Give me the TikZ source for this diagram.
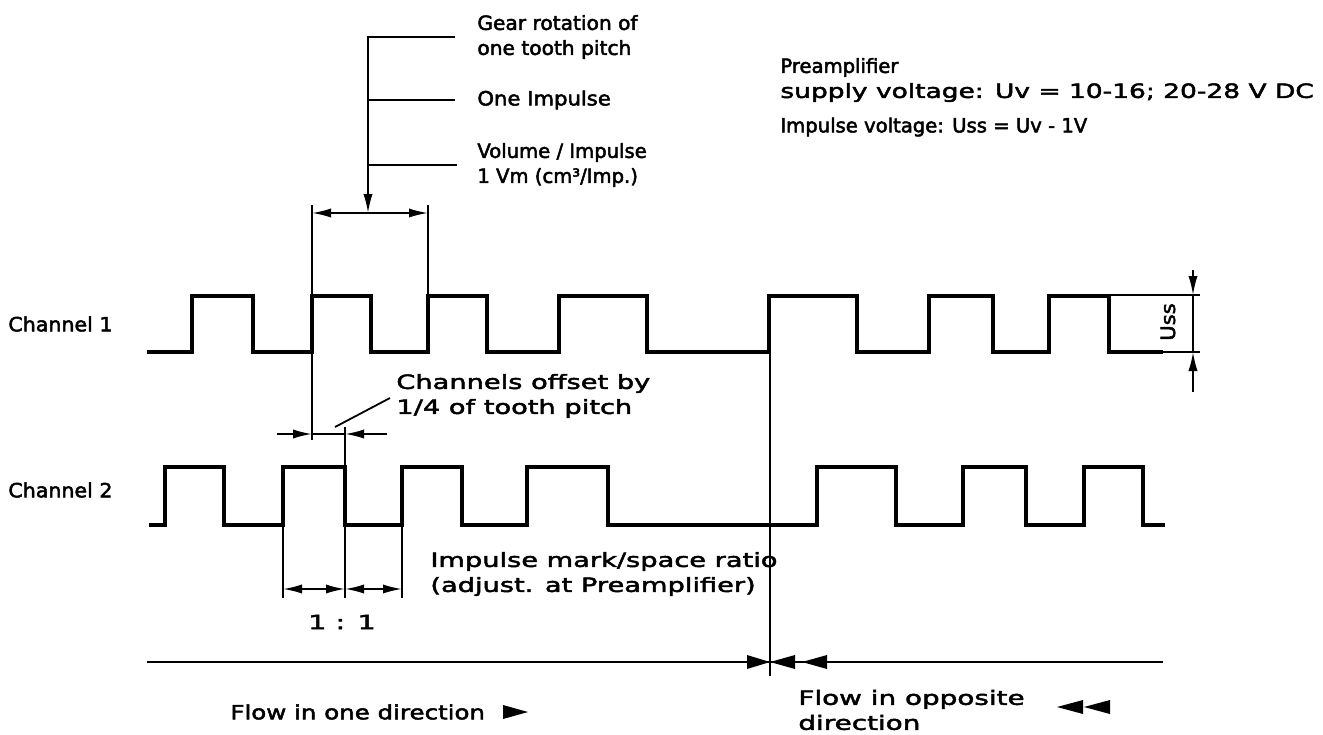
\documentclass[tikz,border=0pt]{standalone}
\usepackage{fontspec}
\setmainfont{DejaVu Sans}
\usetikzlibrary{arrows.meta, positioning, calc}

\begin{document}
\begin{tikzpicture}[
        x=0.5pt, y=-0.5pt,
        sig/.style={line width=2.3pt, line join=miter},
        fine/.style={line width=0.9pt},
        txt/.style={anchor=west, inner sep=0pt, align=left, font=\fontsize{9.8}{12.5}\selectfont\addfontfeatures{FakeBold=2.5}},
        wide/.style={txt, font=\fontsize{9.8}{12.5}\selectfont\addfontfeatures{FakeBold=2.5,FakeStretch=#1}},
        >={Latex[length=9.5pt,width=4.6pt]}
    ]
        \useasboundingbox (0,0) rectangle (1323,734);

        % channel signals
        \draw[sig] (147,352) -| (192,296) -| (253,352) -| (312,296) -| (371,352) -| (428,296) -| (487,352) -| (559,296) -| (647,352) -| (769,296) -| (857,352) -| (929,296) -| (993,352) -| (1049,296) -| (1109,352) -- (1163,352);
        \draw[sig] (149,525) -| (165,467) -| (224,525) -| (283,467) -| (345,525) -| (402,467) -| (462,525) -| (527,467) -| (608,525) -| (817,467) -| (896,525) -| (963,467) -| (1026,525) -| (1084,467) -| (1143,525) -- (1165,525);

        \node[wide=1.05] (ch1) at (8,324) {Channel 1};
        \node[wide=1.05] (ch2) at (8,490) {Channel 2};

        % labels at the top
        \node[wide=1.03] (gear) at (477,37) {Gear rotation of\\one tooth pitch};
        \node[wide=1.08] (imp)  at (477,100) {One Impulse};
        \node[txt] (vol)  at (477,165) {Volume / Impulse\\1 Vm (cm³/Imp.)};
        \node[txt] (pre)  at (780,80) {Preamplifier\\{\addfontfeatures{FakeStretch=1.35}supply voltage:  Uv = 10-16; 20-28 V DC}};
        \node[txt] (uss)  at (780,127) {Impulse voltage: Uss = Uv - 1V};

        \coordinate (top) at (368,37);
        \coordinate (pL) at (312,213);
        \coordinate (pR) at (428,213);
        \draw[fine, ->] ([xshift=-11pt]gear.west) -- (top) -- (pL -| top);
        \draw[fine] ([xshift=-11pt]imp.west) -- (imp.west -| top);
        \draw[fine] ([xshift=-10pt]vol.west) -- (vol.west -| top);
        \draw[fine, <->] (pL) -- (pR);
        \draw[fine] (312,205) -- (312,440);
        \draw[fine] (428,205) -- (428,296);

        % offset of the channels
        \node[wide=1.39] (off) at (396,396) {Channels offset by\\1/4 of tooth pitch};
        \coordinate (oL) at (312,434);
        \coordinate (oR) at (345,434);
        \draw[fine, ->] (277,434) -- (oL);
        \draw[fine] (oL) -- (oR);
        \draw[fine, <-] (oR) -- (387,434);
        \draw[fine] (335,427) -- (390,398);
        \draw[fine] (345,427) -- (345,598);

        % mark/space ratio
        \coordinate (rL) at (283,589);
        \coordinate (rM) at (345,589);
        \coordinate (rR) at (402,589);
        \draw[fine] (283,525) -- (283,598);
        \draw[fine] (402,525) -- (402,598);
        \draw[fine, <->] (rL) -- (rM);
        \draw[fine, <->] (rM) -- (rR);
        \node[wide=1.47, anchor=center] (ratio) at (342,622) {1 : 1};
        \node[wide=1.39] (mark) at (430,574) {Impulse mark/space ratio\\(adjust. at Preamplifier)};

        % Uss
        \coordinate (uT) at (1193,295);
        \coordinate (uB) at (1193,352);
        \draw[fine] (1109,295) -- (1200,295);
        \draw[fine] (1163,352) -- (1200,352);
        \draw[fine, ->] (1193,270) -- (uT);
        \draw[fine] (uT) -- (uB);
        \draw[fine, ->] (1193,392) -- (uB);
        \node[wide=1.08, anchor=center, rotate=90] (ulbl) at (1168,322) {Uss};

        % flow direction
        \coordinate (fc) at (770,662);
        \draw[fine] (770,352) -- (770,676);
        \draw[fine] (147,662) -- (1163,662);
        \fill (747,655) -- (fc) -- (747,669) -- cycle;
        \fill (fc) -- (795,655) -- (795,669) -- cycle;
        \fill (802,662) -- (827,655) -- (827,669) -- cycle;

        \node[wide=1.25] (fw) at (230,712) {Flow in one direction};
        \fill (503,705) -- (528,712) -- (503,719) -- cycle;
        \node[wide=1.42] (bw) at (798,710) {Flow in opposite\\direction};
        \fill (1057,707) -- (1083,700) -- (1083,714) -- cycle;
        \fill (1084,707) -- (1110,700) -- (1110,714) -- cycle;
    \end{tikzpicture}
\end{document}
